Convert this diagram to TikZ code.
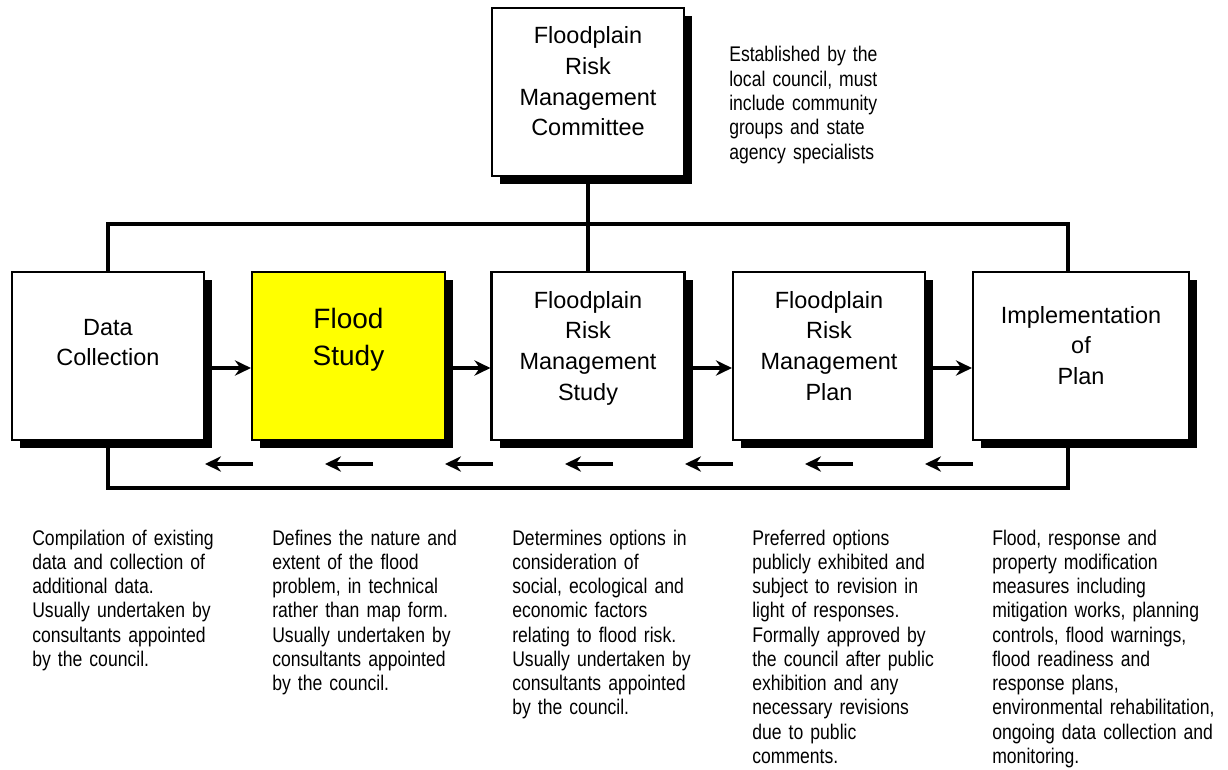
\documentclass[tikz,border=0pt]{standalone}
\usepackage{fontspec}
\setmainfont{Liberation Sans}
\newfontfamily\notefont[FakeStretch=0.83]{Liberation Sans}
\usetikzlibrary{arrows.meta,shadows,calc}
\definecolor{floodyellow}{RGB}{255,255,0}

\begin{document}
\begin{tikzpicture}[x=0.75pt,y=-0.75pt,
  stagebox/.style={draw=black,line width=1.6pt,fill=white,inner sep=0pt,
    minimum height=126pt,
    drop shadow={shadow xshift=6pt,shadow yshift=-6pt,fill=black,opacity=1}},
  boxtext/.style={inner sep=0pt,align=center,anchor=base,
    font=\fontsize{17.6pt}{23pt}\selectfont},
  bigtext/.style={inner sep=0pt,align=center,anchor=base,
    font=\fontsize{21pt}{27.75pt}\selectfont},
  note/.style={inner sep=0pt,align=left,anchor=base west,text width=170pt,
    font=\notefont\fontsize{15.9pt}{18.2pt}\selectfont},
  conn/.style={line width=2.4pt},
  fwd/.style={line width=2.6pt,-{Stealth[length=12pt,width=11.5pt,inset=4pt]}},
  back/.style={line width=2.8pt,-{Stealth[length=12pt,width=11.5pt,inset=4pt]}}]

\useasboundingbox (0,0) rectangle (1228,770);

% reference rows for the buses and the arrows
\coordinate (topbus) at (0,224);
\coordinate (botbus) at (0,488);
\coordinate (arrowrow) at (0,368);
\coordinate (implx) at (1068,0);

% committee
\node[stagebox,minimum width=144pt] (frmc) at (588,92) {};
\node[boxtext,text width=140pt] (frmc-t) at (588,44)
  {Floodplain\\Risk\\Management\\Committee};
\node[note,text width=130pt] (frmc-n) at (729,62)
  {Established by the\\local council, must\\include community\\groups and state\\agency specialists};

% process stages
\node[stagebox,minimum width=144pt] (dc) at (108,356) {};
\node[stagebox,minimum width=144.75pt,fill=floodyellow] (fs) at (348.5,356) {};
\node[stagebox,minimum width=144.75pt] (frms) at (588,356) {};
\node[stagebox,minimum width=144pt] (frmp) at (829,356) {};
\node[stagebox,minimum width=162pt] (impl) at (1081,356) {};

\node[boxtext,text width=140pt] (dc-t) at (108,335) {Data\\Collection};
\node[bigtext,text width=140pt] (fs-t) at (348.5,328) {Flood\\Study};
\node[boxtext,text width=140pt] (frms-t) at (588,308)
  {Floodplain\\Risk\\Management\\Study};
\node[boxtext,text width=140pt] (frmp-t) at (829,308)
  {Floodplain\\Risk\\Management\\Plan};
\node[boxtext,text width=158pt] (impl-t) at (1081,323)
  {Implementation\\of\\Plan};

% committee links and the return loop
\draw[conn] (frmc.south) -- (frmc.south |- frms.north);
\draw[conn] (dc.north) -- (dc.north |- topbus) -- (implx |- topbus)
  -- (implx |- impl.north);
\draw[conn] (dc.south) -- (dc.south |- botbus) -- (implx |- botbus)
  -- (implx |- impl.south);

% forward flow between stages
\draw[fwd] (dc.east |- arrowrow) -- (fs.west |- arrowrow);
\draw[fwd] (fs.east |- arrowrow) -- (frms.west |- arrowrow);
\draw[fwd] (frms.east |- arrowrow) -- (frmp.west |- arrowrow);
\draw[fwd] (frmp.east |- arrowrow) -- (impl.west |- arrowrow);

% feedback arrows along the return loop
\foreach \i in {0,...,6} {
  \coordinate (fb-tail-\i) at ({253+120*\i},464);
  \coordinate (fb-tip-\i) at ({205+120*\i},464);
  \draw[back] (fb-tail-\i) -- (fb-tip-\i);
}

% descriptions under each stage
\node[note] (dc-n) at (32,545)
  {Compilation of existing\\data and collection of\\additional data.\\Usually undertaken by\\consultants appointed\\by the council.};
\node[note] (fs-n) at (272,545)
  {Defines the nature and\\extent of the flood\\problem, in technical\\rather than map form.\\Usually undertaken by\\consultants appointed\\by the council.};
\node[note] (frms-n) at (512,545)
  {Determines options in\\consideration of\\social, ecological and\\economic factors\\relating to flood risk.\\Usually undertaken by\\consultants appointed\\by the council.};
\node[note] (frmp-n) at (752,545)
  {Preferred options\\publicly exhibited and\\subject to revision in\\light of responses.\\Formally approved by\\the council after public\\exhibition and any\\necessary revisions\\due to public\\comments.};
\node[note,text width=175pt] (impl-n) at (992,545)
  {Flood, response and\\property modification\\measures including\\mitigation works, planning\\controls, flood warnings,\\flood readiness and\\response plans,\\environmental rehabilitation,\\ongoing data collection and\\monitoring.};

\end{tikzpicture}
\end{document}
